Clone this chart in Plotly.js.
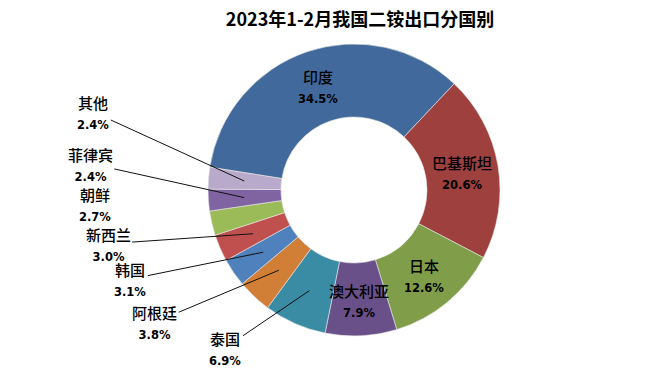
<!DOCTYPE html>
<html><head><meta charset="utf-8">
<script src="https://cdn.plot.ly/plotly-3.0.1.min.js"></script>
<style>html,body{margin:0;padding:0;background:#fff}#chart{width:659px;height:378px}</style>
</head><body><div id="chart"></div>
<script>
// ---- data ----
const titleText = '2023年1-2月我国二铵出口分国别';
const countries = ['印度','巴基斯坦','日本','澳大利亚','泰国','阿根廷','韩国','新西兰','朝鲜','菲律宾','其他'];
const shares = [34.5, 20.6, 12.6, 7.9, 6.9, 3.8, 3.1, 3.0, 2.7, 2.4, 2.4];

// ---- styles / layout ----
const sliceColors = ['#41699B','#9E413E','#809E4A','#6A5088','#3A8BA4','#D17F37','#4F81BD','#C0504D','#9BBB59','#8064A2','#B9AACB'];
const W = 659, H = 378;
const cx = 354, cy = 190, R = 146, holeFrac = 0.5;
const rotationDeg = -81;
const labelR = 110;
// label offsets (px) from the slice anchor; null = inside label; [dx, dy, line]
const labelOffsets = [null, null, null, null, [-84,57,true], [-124,52,true], [-133,27,true], [-145,10,true], [-152,-11,false], [-154,-34,true], [-151,-69,true]];

const total = shares.reduce((a,b)=>a+b,0);
const annotations = [];
let acc = rotationDeg;
shares.forEach((v,i)=>{
  const span = v/total*360;
  const mid = (acc + span/2) * Math.PI/180;
  acc += span;
  const px = cx + labelR*Math.sin(mid);
  const py = cy - labelR*Math.cos(mid);
  const txt = countries[i] + '<br><span style="font-family:\'DejaVu Sans\';font-size:11.5px;font-weight:bold">' + v.toFixed(1) + '%</span>';
  const font = {family:'"Noto Sans CJK SC", sans-serif', size:15, color:'#000', weight:500};
  const off = labelOffsets[i];
  if (!off) {
    annotations.push({xref:'paper', yref:'paper', x:px/W, y:1-py/H, text:txt, showarrow:false, font, xanchor:'center', yanchor:'middle'});
  } else if (off[2]) {
    annotations.push({xref:'paper', yref:'paper', x:px/W, y:1-py/H, ax:off[0], ay:off[1], text:txt, showarrow:true,
      arrowhead:0, arrowwidth:1, arrowcolor:'#111', standoff:0, startstandoff:0, font});
  } else {
    annotations.push({xref:'paper', yref:'paper', x:(px+off[0])/W, y:1-(py+off[1])/H, text:txt, showarrow:false, font, xanchor:'center', yanchor:'middle'});
  }
});

const trace = {
  type:'pie', labels:countries, values:shares, sort:false, direction:'clockwise', rotation:rotationDeg,
  hole:holeFrac, textinfo:'none', hoverinfo:'label+percent',
  marker:{colors:sliceColors, line:{color:'#e8e8e8', width:0.6}},
  domain:{x:[(cx-R)/W,(cx+R)/W], y:[(H-cy-R)/H,(H-cy+R)/H]},
  showlegend:false
};

const layout = {
  width:W, height:H, margin:{l:0,r:0,t:0,b:0}, paper_bgcolor:'#fff', plot_bgcolor:'#fff',
  title:{text:'<b>'+titleText+'</b>', x:360/W, xanchor:'center', xref:'paper', y:1-20/H, yanchor:'middle', yref:'container',
    font:{family:'"Noto Sans CJK SC", sans-serif', size:18, color:'#000'}},
  annotations, showlegend:false
};
Plotly.newPlot('chart',[trace],layout,{displayModeBar:false, staticPlot:true});
</script></body></html>
